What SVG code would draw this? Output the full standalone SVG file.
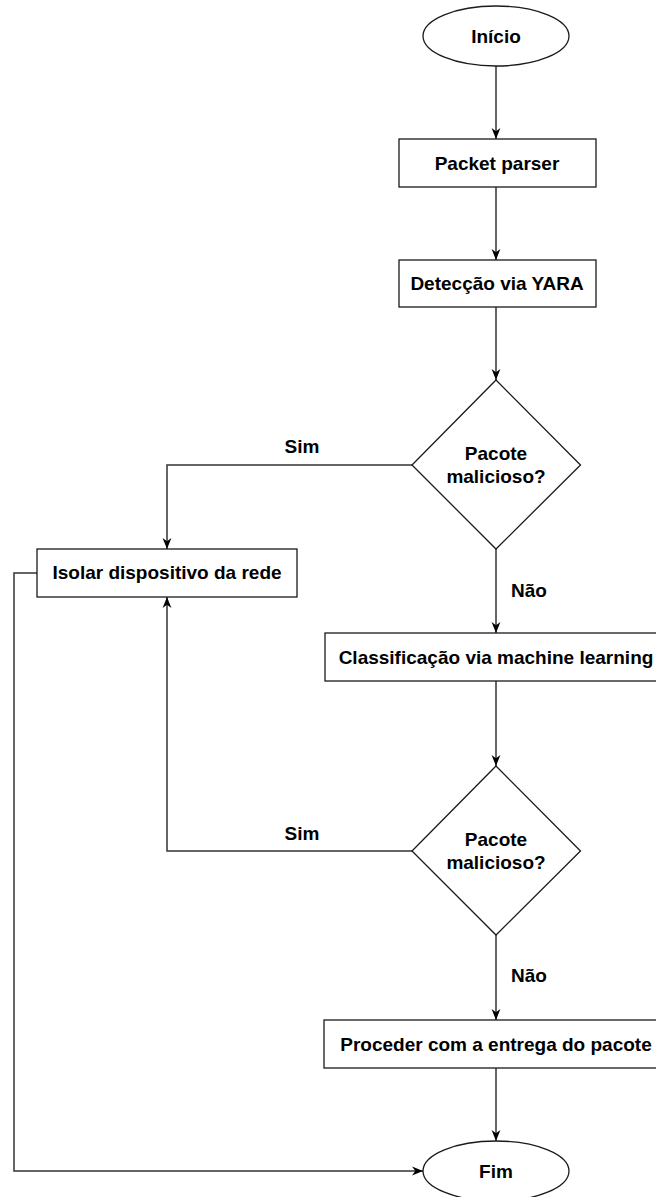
<svg xmlns="http://www.w3.org/2000/svg" width="656" height="1197" viewBox="0 0 656 1197">
  <style>
    .shape { fill: #ffffff; stroke: #1a1a1a; stroke-width: 1.3; }
    .edge { fill: none; stroke: #333333; stroke-width: 1.5; }
    .lbl { font-family: "Liberation Sans", Arial, Helvetica, sans-serif; font-weight: bold; font-size: 19px; fill: #000000; text-anchor: middle; }
  </style>
  <defs>
    <marker id="arrow" viewBox="0 0 10 10" refX="10" refY="5" markerWidth="11" markerHeight="11" markerUnits="userSpaceOnUse" orient="auto">
      <path d="M0,1 L10,5 L0,9 L3,5 z" fill="#000000"/>
    </marker>
  </defs>
  <rect width="656" height="1197" fill="#ffffff"/>

  <!-- connectors -->
  <g id="connectors">
    <path class="edge" d="M496,66 L496,139" marker-end="url(#arrow)"/>
    <path class="edge" d="M496,187 L496,260" marker-end="url(#arrow)"/>
    <path class="edge" d="M496,307 L496,380" marker-end="url(#arrow)"/>
    <path class="edge" d="M412,465 L167,465 L167,549" marker-end="url(#arrow)"/>
    <path class="edge" d="M496,549 L496,633" marker-end="url(#arrow)"/>
    <path class="edge" d="M496,681 L496,766" marker-end="url(#arrow)"/>
    <path class="edge" d="M412,851 L167,851 L167,597" marker-end="url(#arrow)"/>
    <path class="edge" d="M496,935 L496,1020" marker-end="url(#arrow)"/>
    <path class="edge" d="M496,1068 L496,1141" marker-end="url(#arrow)"/>
    <path class="edge" d="M37,573 L14,573 L14,1171 L423,1171" marker-end="url(#arrow)"/>
    <text class="lbl" x="302" y="453">Sim</text>
    <text class="lbl" x="529" y="597">Não</text>
    <text class="lbl" x="302" y="840">Sim</text>
    <text class="lbl" x="529" y="982">Não</text>
  </g>

  <g id="inicio">
    <ellipse class="shape" cx="496" cy="36" rx="73" ry="30"/>
    <text class="lbl" x="496" y="43">Início</text>
  </g>

  <g id="packet-parser">
    <rect class="shape" x="399" y="139" width="197" height="48"/>
    <text class="lbl" x="497" y="170">Packet parser</text>
  </g>

  <g id="deteccao-yara">
    <rect class="shape" x="399" y="260" width="197" height="47"/>
    <text class="lbl" x="497" y="290">Detecção via YARA</text>
  </g>

  <g id="decisao-1">
    <polygon class="shape" points="496,380 580.5,465 496,549 412,465"/>
    <text class="lbl" x="496" y="460">Pacote</text>
    <text class="lbl" x="496" y="483">malicioso?</text>
  </g>

  <g id="isolar">
    <rect class="shape" x="37" y="549" width="260" height="48"/>
    <text class="lbl" x="167" y="579">Isolar dispositivo da rede</text>
  </g>

  <g id="classificacao-ml">
    <rect class="shape" x="325" y="633" width="343" height="48"/>
    <text class="lbl" x="496" y="664">Classificação via machine learning</text>
  </g>

  <g id="decisao-2">
    <polygon class="shape" points="496,766 580.5,851 496,935 412,851"/>
    <text class="lbl" x="496" y="846">Pacote</text>
    <text class="lbl" x="496" y="869">malicioso?</text>
  </g>

  <g id="proceder">
    <rect class="shape" x="324" y="1020" width="344" height="48"/>
    <text class="lbl" x="496" y="1051">Proceder com a entrega do pacote</text>
  </g>

  <g id="fim">
    <ellipse class="shape" cx="496" cy="1171" rx="73" ry="30"/>
    <text class="lbl" x="496" y="1178">Fim</text>
  </g>
</svg>
